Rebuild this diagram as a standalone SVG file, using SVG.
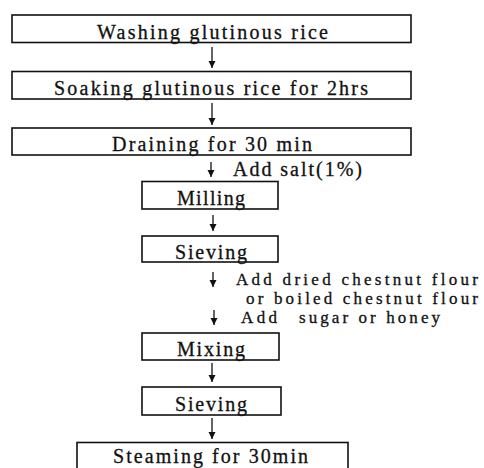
<svg xmlns="http://www.w3.org/2000/svg" width="484" height="468" viewBox="0 0 484 468">
<defs>
<style>
.box{fill:#fff;stroke:#111;stroke-width:1.6}
.t{font-family:"Liberation Serif","Times New Roman",serif;font-size:20px;fill:#111;stroke:#111;stroke-width:0.3}
.s{font-size:17px}
.c{text-anchor:middle}
.conn{stroke:#111;stroke-width:1.3;fill:none}
</style>
<marker id="ah" markerUnits="userSpaceOnUse" markerWidth="8" markerHeight="8" refX="7" refY="3.5" orient="auto" viewBox="0 0 8 7">
<path d="M0,0 L7,3.5 L0,7 Z" fill="#111"/>
</marker>
</defs>
<rect width="484" height="468" fill="#fff"/>
<g id="connectors">
<line class="conn" x1="212" y1="47" x2="212" y2="68" marker-end="url(#ah)"/>
<line class="conn" x1="212" y1="103" x2="212" y2="125" marker-end="url(#ah)"/>
<line class="conn" x1="211" y1="162" x2="211" y2="177" marker-end="url(#ah)"/>
<line class="conn" x1="213" y1="215" x2="213" y2="231" marker-end="url(#ah)"/>
<line class="conn" x1="213" y1="272" x2="213" y2="287" marker-end="url(#ah)"/>
<line class="conn" x1="214" y1="310" x2="214" y2="325" marker-end="url(#ah)"/>
<line class="conn" x1="212" y1="363" x2="212" y2="382" marker-end="url(#ah)"/>
<line class="conn" x1="212" y1="418" x2="212" y2="439" marker-end="url(#ah)"/>
<text class="t" x="233" y="176" textLength="129" lengthAdjust="spacing">Add salt(1%)</text>
<text class="t s" x="236" y="285" textLength="242" lengthAdjust="spacing">Add dried chestnut flour</text>
<text class="t s" x="246" y="304" textLength="232" lengthAdjust="spacing">or boiled chestnut flour</text>
<text class="t s" y="323"><tspan x="241" textLength="36" lengthAdjust="spacing">Add</tspan> <tspan x="299" textLength="141" lengthAdjust="spacing">sugar or honey</tspan></text>
</g>
<g id="n1">
<rect class="box" x="12" y="15" width="399" height="27.5"/>
<text class="t c" x="212.5" y="39" textLength="231" lengthAdjust="spacing">Washing glutinous rice</text>
</g>
<g id="n2">
<rect class="box" x="12" y="71.5" width="399" height="27.5"/>
<text class="t c" x="211" y="95" textLength="314" lengthAdjust="spacing">Soaking glutinous rice for 2hrs</text>
</g>
<g id="n3">
<rect class="box" x="12" y="128" width="399" height="27"/>
<text class="t c" x="212" y="151" textLength="200" lengthAdjust="spacing">Draining for 30 min</text>
</g>
<g id="n4">
<rect class="box" x="142" y="181.5" width="136" height="27.5"/>
<text class="t c" x="211" y="205" textLength="68" lengthAdjust="spacing">Milling</text>
</g>
<g id="n5">
<rect class="box" x="142" y="236" width="136" height="26"/>
<text class="t c" x="211" y="259" textLength="72" lengthAdjust="spacing">Sieving</text>
</g>
<g id="n6">
<rect class="box" x="142" y="333" width="137" height="27"/>
<text class="t c" x="211" y="356" textLength="68" lengthAdjust="spacing">Mixing</text>
</g>
<g id="n7">
<rect class="box" x="142" y="387" width="139" height="28"/>
<text class="t c" x="211" y="411" textLength="72" lengthAdjust="spacing">Sieving</text>
</g>
<g id="n8">
<rect class="box" x="77" y="442.5" width="271" height="32"/>
<text class="t c" x="210.5" y="463" textLength="195" lengthAdjust="spacing">Steaming for 30min</text>
</g>
</svg>
